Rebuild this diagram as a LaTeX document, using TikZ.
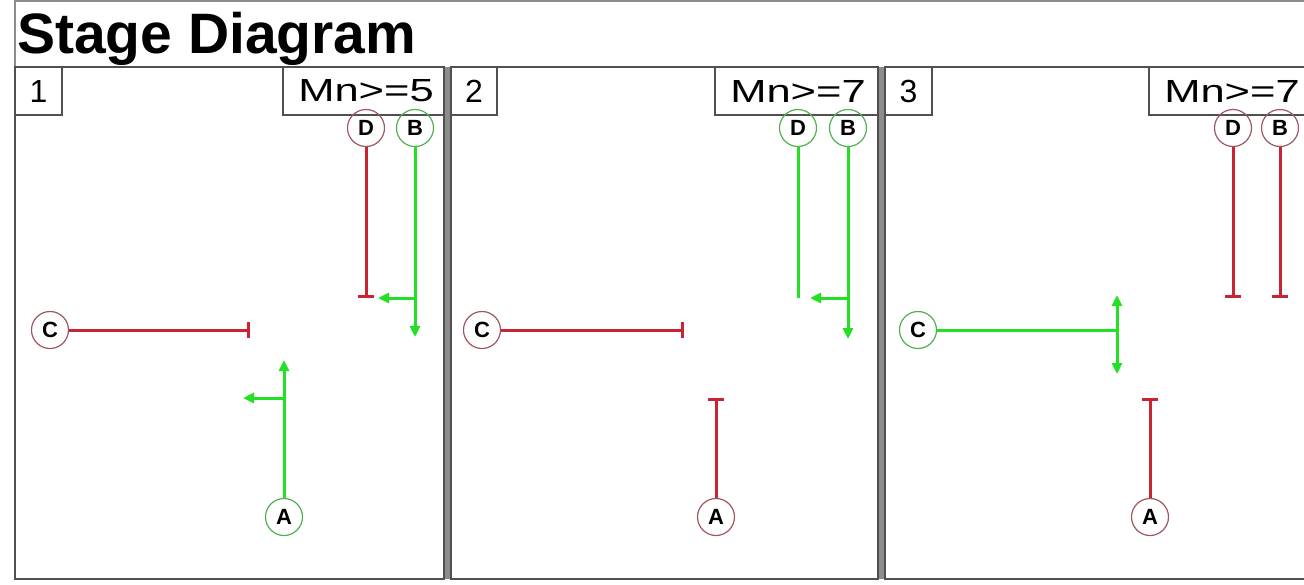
\documentclass[tikz,border=0pt]{standalone}
\usepackage{fontspec}
\setmainfont{Liberation Sans}
\usetikzlibrary{arrows.meta}

\definecolor{stopred}{RGB}{200,36,52}
\definecolor{gogreen}{RGB}{36,224,36}
\definecolor{framegray}{RGB}{80,80,80}
\definecolor{sepgray}{RGB}{140,140,140}

\tikzset{
  panel/.style={draw=framegray, line width=2pt},
  tagbox/.style={draw=framegray, line width=1.5pt},
  tagtext/.style={inner sep=0pt, font=\fontsize{32}{34}\selectfont},
  sig/.style={circle, minimum size=37pt, inner sep=0pt, line width=1.2pt,
              font=\bfseries\fontsize{22}{22}\selectfont},
  sigred/.style={sig, draw=stopred!45!gray},
  siggreen/.style={sig, draw=gogreen!50!gray},
  redline/.style={draw=stopred, line width=3pt},
  greenline/.style={draw=gogreen, line width=3pt},
  stopend/.style={-{Bar[width=16pt]}},
  goend/.style={-{Triangle[length=11pt,width=10pt]}},
  gobothends/.style={{Triangle[length=11pt,width=10pt]}-{Triangle[length=11pt,width=10pt]}},
}

\newcommand{\mntag}[1]{\scalebox{1.36}[1]{Mn>=#1}}

\begin{document}
\begin{tikzpicture}[x=1pt,y=-1pt]
\useasboundingbox (0,0) rectangle (1304,584);

% outer frame lines and title
\draw[draw=sepgray, line width=1.5pt] (15,0) -- (15,67);
\draw[draw=sepgray, line width=1.5pt] (15,1) -- (1304,1);
\node[anchor=base west, inner sep=0pt, font=\bfseries\fontsize{57}{57}\selectfont]
  (title) at (17,53) {Stage Diagram};

% separators between the panels
\fill[sepgray] (444,67) rectangle (451,579);
\fill[sepgray] (878,67) rectangle (885,579);

% panels
\draw[panel] (15,67) rectangle (444,579);
\draw[panel] (451,67) rectangle (878,579);
\draw[panel] (885,67) rectangle (1310,579);

% panel tags
\draw[tagbox] (15,67) rectangle (62,115);
\node[tagtext] (n1) at (38.5,91) {1};
\draw[tagbox] (283,67) rectangle (444,115);
\node[tagtext] (m1) at (366,91) {\mntag{5}};

\draw[tagbox] (451,67) rectangle (497,115);
\node[tagtext] (n2) at (474,91) {2};
\draw[tagbox] (715,67) rectangle (878,115);
\node[tagtext] (m2) at (798,91) {\mntag{7}};

\draw[tagbox] (885,67) rectangle (932,115);
\node[tagtext] (n3) at (908.5,91) {3};
\draw[tagbox] (1149,67) rectangle (1310,115);
\node[tagtext] (m3) at (1232,91) {\mntag{7}};

% ---------- stage 1 ----------
\node[sigred]   (D1) at (366,128) {D};
\node[siggreen] (B1) at (415,128) {B};
\node[sigred]   (C1) at (50,330)  {C};
\node[siggreen] (A1) at (284,517) {A};
\coordinate (D1end) at (366,298);
\coordinate (B1end) at (415,337);
\coordinate (B1fork) at (415,298);
\coordinate (B1turn) at (378,298);
\coordinate (C1end) at (250,330);
\coordinate (A1end) at (284,360);
\coordinate (A1fork) at (284,398);
\coordinate (A1turn) at (243,398);
\draw[redline, stopend] (D1) -- (D1end);
\draw[greenline, goend] (B1) -- (B1end);
\draw[greenline, goend] (B1fork) -- (B1turn);
\draw[redline, stopend] (C1) -- (C1end);
\draw[greenline, goend] (A1) -- (A1end);
\draw[greenline, goend] (A1fork) -- (A1turn);

% ---------- stage 2 ----------
\node[siggreen] (D2) at (798,128) {D};
\node[siggreen] (B2) at (848,128) {B};
\node[sigred]   (C2) at (482,330) {C};
\node[sigred]   (A2) at (716,517) {A};
\coordinate (D2end) at (798,298);
\coordinate (B2end) at (848,339);
\coordinate (B2fork) at (848,298);
\coordinate (B2turn) at (810,298);
\coordinate (C2end) at (684,330);
\coordinate (A2end) at (716,398);
\draw[greenline] (D2) -- (D2end);
\draw[greenline, goend] (B2) -- (B2end);
\draw[greenline, goend] (B2fork) -- (B2turn);
\draw[redline, stopend] (C2) -- (C2end);
\draw[redline, stopend] (A2) -- (A2end);

% ---------- stage 3 ----------
\node[sigred]   (D3) at (1233,128) {D};
\node[sigred]   (B3) at (1280,128) {B};
\node[siggreen] (C3) at (918,330)  {C};
\node[sigred]   (A3) at (1150,517) {A};
\coordinate (D3end) at (1233,298);
\coordinate (B3end) at (1280,298);
\coordinate (C3fork) at (1117,330);
\coordinate (C3up) at (1117,295);
\coordinate (C3down) at (1117,374);
\coordinate (A3end) at (1150,398);
\draw[redline, stopend] (D3) -- (D3end);
\draw[redline, stopend] (B3) -- (B3end);
\draw[greenline] (C3) -- (C3fork);
\draw[greenline, gobothends] (C3up) -- (C3down);
\draw[redline, stopend] (A3) -- (A3end);
\end{tikzpicture}
\end{document}
